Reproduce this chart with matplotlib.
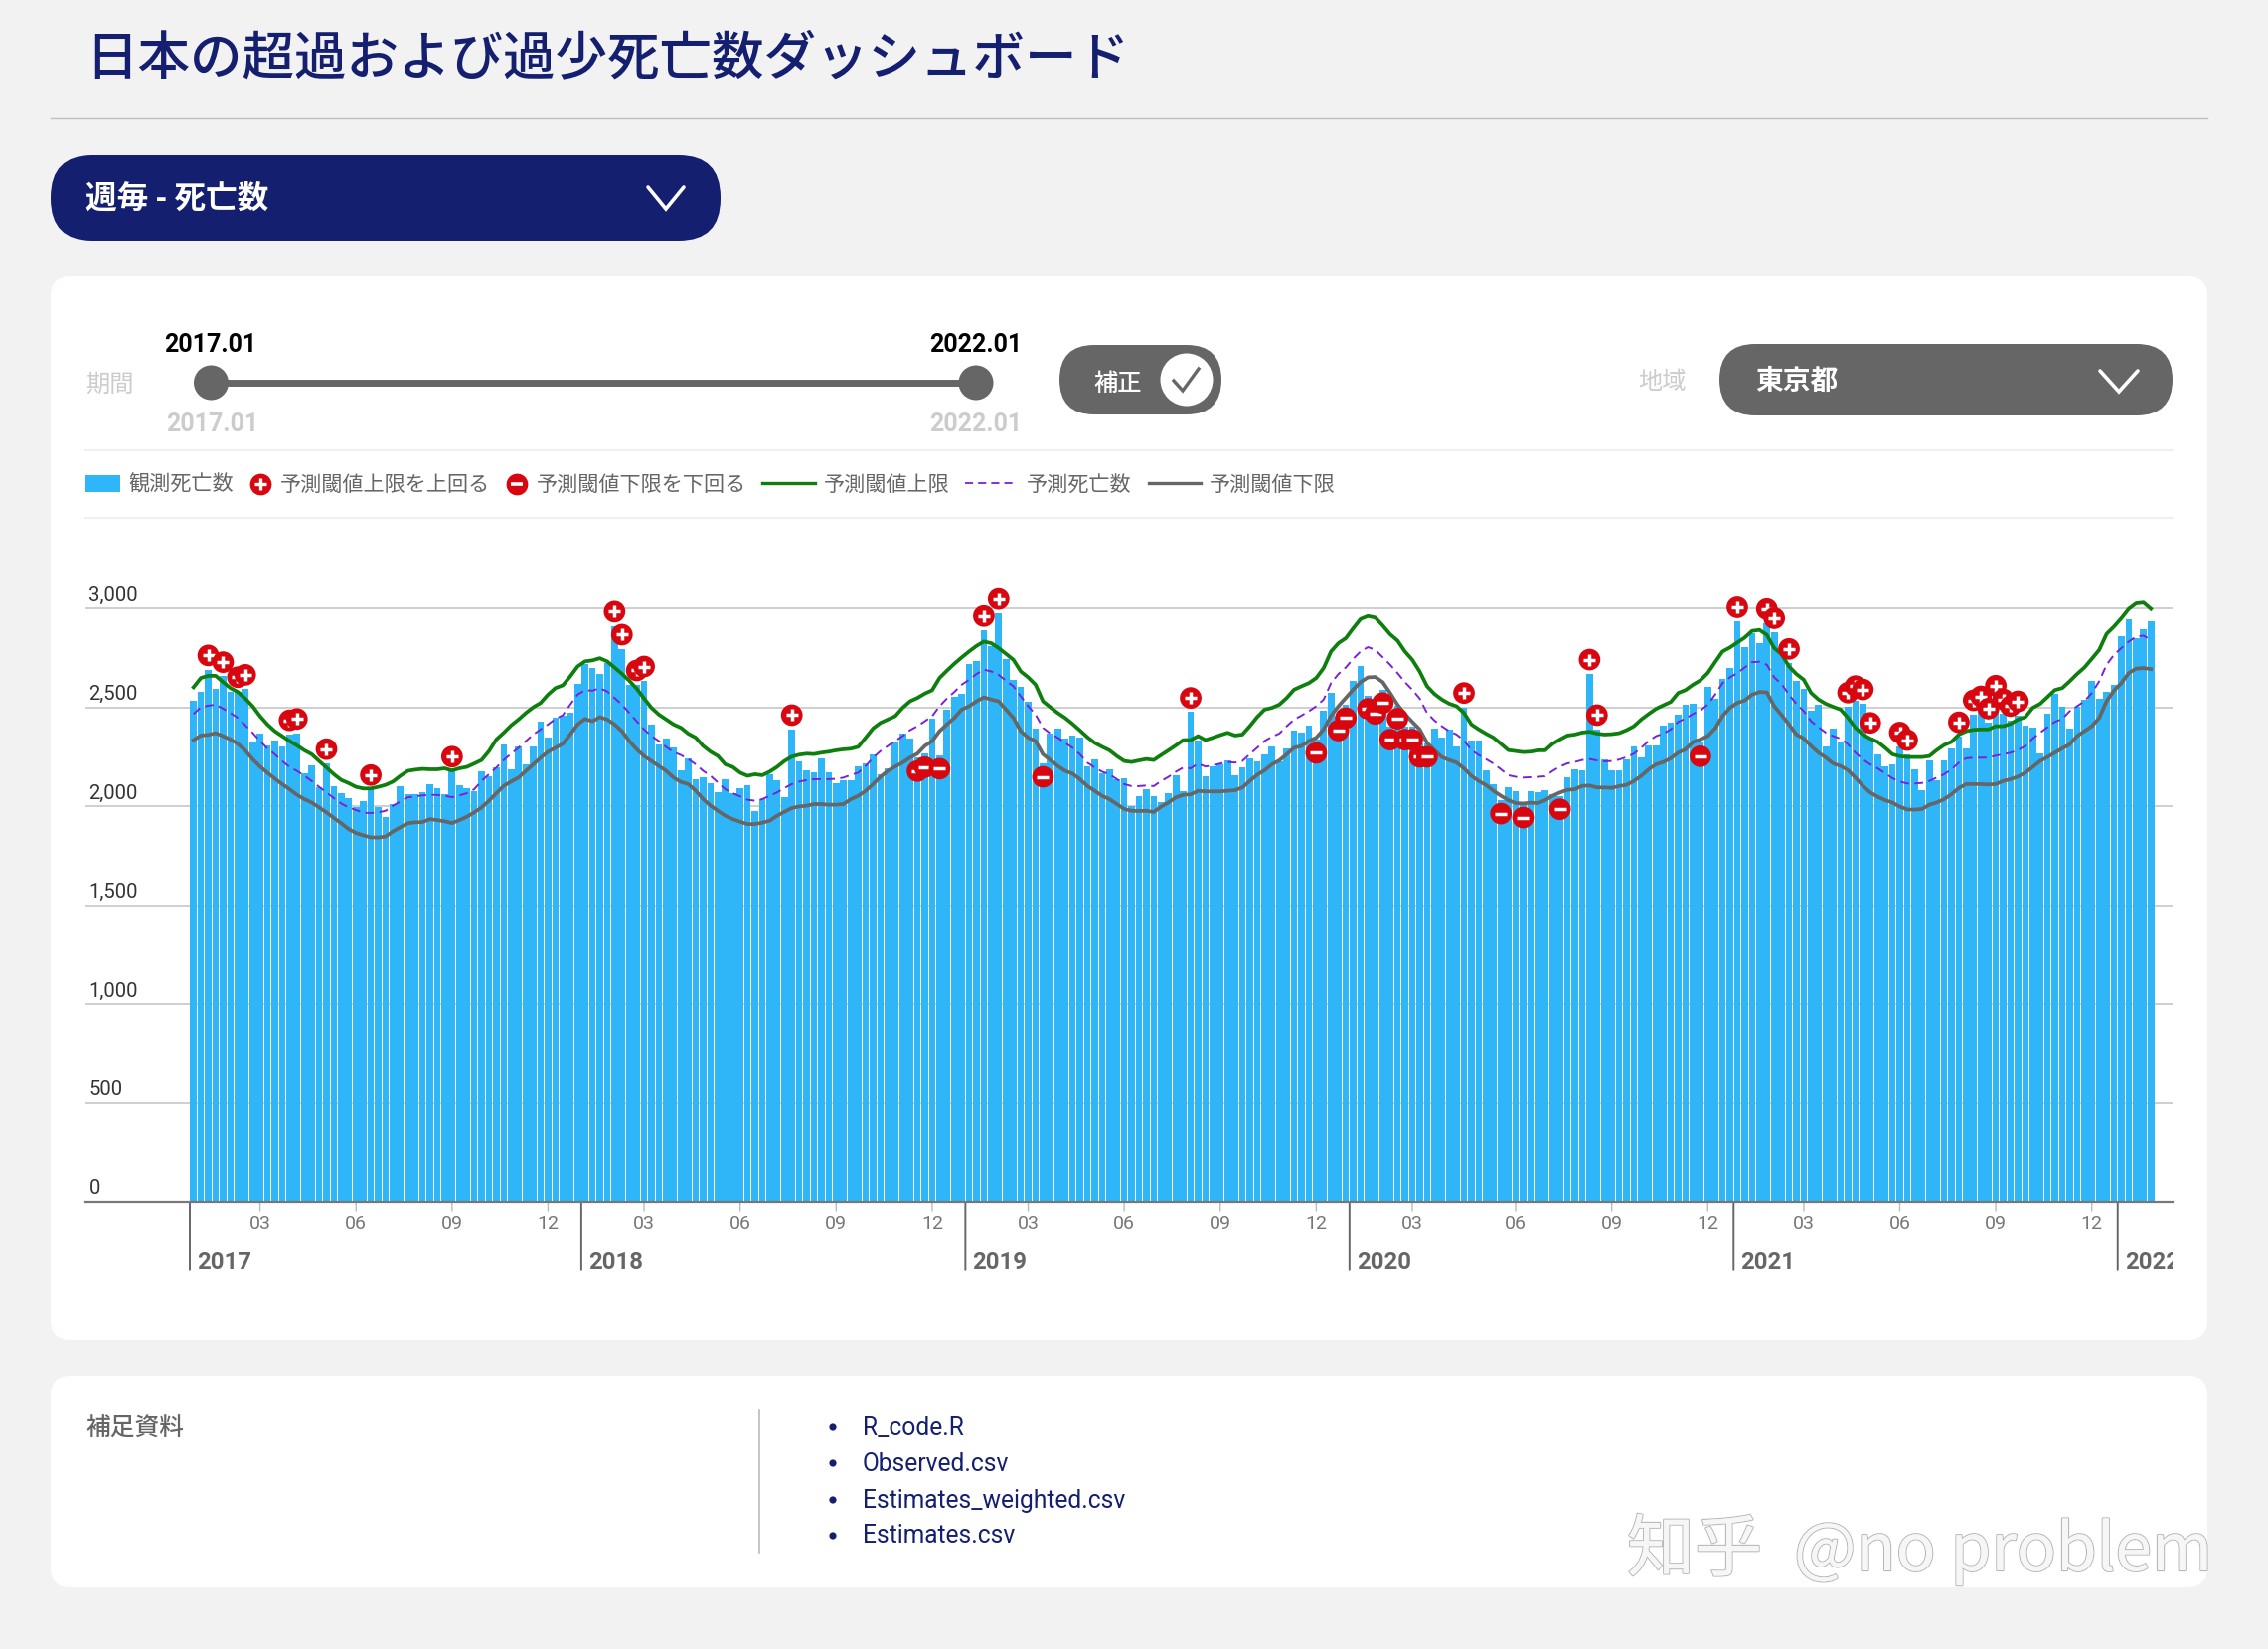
import matplotlib
matplotlib.use("Agg")
import matplotlib.pyplot as plt
from matplotlib.patches import FancyBboxPatch, Rectangle, Circle
from matplotlib.transforms import Bbox
import matplotlib.patheffects as pe

W, H = 2282, 1659

title = "日本の超過および過少死亡数ダッシュボード"
y_ticks = [0, 500, 1000, 1500, 2000, 2500, 3000]
y_tick_labels = ["0", "500", "1,000", "1,500", "2,000", "2,500", "3,000"]
month_pos = [9, 22, 35, 48, 61, 74, 87, 100, 113, 126, 139, 152, 165, 179, 192, 205, 218, 231, 244, 257]
month_labels = ["03", "06", "09", "12"] * 5
year_pos = [0, 53, 105, 157, 209, 261]
year_labels = ["2017", "2018", "2019", "2020", "2021", "2022"]
legend_labels = ["観測死亡数", "予測閾値上限を上回る", "予測閾値下限を下回る", "予測閾値上限", "予測死亡数", "予測閾値下限"]
files = ["R_code.R", "Observed.csv", "Estimates_weighted.csv", "Estimates.csv"]

observed = [
    2534,2580,2690,2594,2656,2577,2580,2592,2327,2369,
    2307,2334,2302,2362,2369,2164,2206,2094,2216,2102,
    2065,2039,1997,2027,2085,1993,1946,2010,2100,2060,
    2060,2069,2111,2089,2060,2178,2107,2089,2077,2176,
    2153,2195,2312,2186,2304,2211,2300,2426,2349,2446,
    2458,2471,2617,2720,2698,2668,2723,2911,2795,2614,
    2614,2634,2413,2312,2342,2295,2183,2242,2136,2148,
    2116,2070,2136,2065,2090,2104,1973,2035,2161,2132,
    2044,2388,2228,2181,2173,2242,2171,2116,2131,2131,
    2201,2216,2262,2159,2191,2324,2367,2342,2245,2265,
    2441,2257,2487,2555,2567,2718,2733,2889,2807,2975,
    2742,2639,2602,2530,2393,2216,2367,2393,2342,2356,
    2349,2201,2236,2164,2186,2136,2141,2002,2049,2085,
    2052,2022,2064,2158,2077,2475,2332,2153,2201,2211,
    2233,2154,2196,2242,2225,2260,2299,2228,2292,2383,
    2372,2408,2337,2483,2575,2450,2513,2631,2710,2560,
    2534,2589,2404,2510,2404,2404,2317,2317,2391,2346,
    2388,2299,2500,2332,2332,2179,2109,2030,2097,2075,
    2010,2077,2069,2080,2060,2052,2146,2184,2181,2669,
    2388,2237,2181,2181,2235,2304,2248,2309,2307,2408,
    2423,2463,2513,2517,2320,2602,2542,2641,2701,2933,
    2804,2874,2824,2924,2878,2768,2723,2633,2594,2480,
    2513,2300,2394,2324,2502,2535,2518,2349,2260,2201,
    2210,2300,2262,2186,2082,2233,2132,2232,2289,2352,
    2290,2463,2483,2421,2537,2468,2434,2458,2409,2396,
    2267,2468,2567,2503,2391,2502,2539,2634,2544,2577,
    2614,2857,2946,2849,2896,2936]

upper = [
    2601,2648,2659,2659,2627,2597,2577,2544,2505,2455,
    2413,2379,2354,2329,2307,2282,2262,2228,2195,2161,
    2132,2116,2097,2089,2089,2097,2107,2124,2153,2178,
    2184,2188,2186,2186,2191,2180,2191,2198,2215,2233,
    2278,2337,2371,2408,2438,2471,2500,2522,2564,2597,
    2611,2656,2706,2732,2737,2748,2732,2701,2669,2634,
    2594,2544,2497,2463,2438,2413,2396,2366,2346,2304,
    2275,2253,2211,2198,2169,2153,2161,2156,2174,2198,
    2228,2250,2260,2265,2263,2270,2275,2282,2287,2290,
    2300,2346,2393,2421,2438,2455,2497,2530,2547,2569,
    2586,2648,2685,2720,2752,2782,2810,2832,2824,2799,
    2770,2740,2681,2651,2614,2530,2500,2471,2446,2416,
    2383,2349,2320,2300,2282,2253,2228,2223,2231,2238,
    2233,2258,2282,2307,2334,2334,2354,2334,2346,2359,
    2371,2357,2362,2404,2450,2488,2497,2513,2547,2589,
    2606,2622,2648,2698,2782,2824,2849,2899,2946,2961,
    2953,2913,2869,2837,2782,2740,2681,2606,2567,2539,
    2518,2505,2471,2413,2388,2366,2346,2315,2283,2278,
    2273,2275,2282,2282,2315,2337,2357,2362,2372,2376,
    2367,2362,2364,2369,2384,2404,2438,2466,2492,2510,
    2527,2572,2587,2614,2636,2673,2728,2782,2802,2827,
    2852,2886,2891,2866,2799,2768,2706,2668,2639,2572,
    2539,2517,2502,2488,2446,2396,2362,2341,2325,2295,
    2262,2252,2248,2248,2248,2253,2283,2309,2325,2362,
    2379,2386,2388,2388,2404,2404,2416,2438,2450,2497,
    2517,2552,2587,2597,2631,2668,2701,2745,2790,2871,
    2908,2950,2997,3025,3029,2997]

predicted = [
    2466,2500,2508,2513,2493,2471,2446,2409,2371,2329,
    2292,2262,2228,2198,2178,2153,2127,2097,2069,2040,
    2013,1993,1980,1966,1965,1968,1976,2002,2023,2044,
    2049,2054,2057,2056,2052,2045,2054,2065,2085,2127,
    2161,2195,2233,2265,2295,2329,2362,2388,2413,2441,
    2460,2513,2564,2586,2584,2596,2580,2547,2513,2471,
    2429,2388,2354,2329,2299,2273,2258,2237,2211,2178,
    2153,2119,2085,2065,2049,2032,2027,2035,2052,2069,
    2091,2111,2124,2131,2136,2136,2136,2138,2144,2158,
    2169,2203,2245,2278,2304,2329,2354,2384,2404,2429,
    2455,2505,2544,2577,2614,2639,2668,2690,2681,2664,
    2634,2606,2555,2505,2463,2396,2367,2346,2320,2295,
    2262,2220,2195,2174,2161,2136,2111,2101,2101,2104,
    2101,2127,2148,2174,2195,2191,2215,2200,2206,2215,
    2223,2220,2228,2262,2295,2329,2351,2367,2404,2438,
    2458,2480,2505,2539,2622,2668,2701,2745,2782,2804,
    2790,2753,2715,2673,2627,2589,2544,2471,2433,2404,
    2379,2362,2332,2283,2258,2237,2215,2186,2156,2148,
    2144,2146,2148,2151,2178,2200,2216,2223,2233,2238,
    2231,2226,2228,2235,2248,2265,2295,2329,2354,2367,
    2388,2426,2443,2466,2483,2513,2564,2622,2651,2673,
    2701,2728,2730,2715,2651,2617,2564,2517,2480,2429,
    2399,2371,2354,2341,2312,2270,2236,2211,2191,2166,
    2141,2124,2114,2114,2117,2127,2144,2161,2186,2220,
    2242,2245,2245,2245,2255,2262,2270,2283,2304,2342,
    2371,2399,2426,2441,2480,2505,2530,2572,2631,2715,
    2765,2799,2832,2857,2862,2841]

lower = [
    2334,2357,2361,2369,2354,2337,2315,2282,2237,2200,
    2169,2139,2111,2085,2057,2035,2018,1993,1968,1940,
    1913,1884,1864,1852,1842,1841,1846,1872,1893,1913,
    1918,1919,1934,1929,1923,1914,1929,1946,1968,1993,
    2027,2065,2102,2124,2144,2178,2211,2245,2275,2295,
    2315,2362,2413,2441,2429,2450,2438,2413,2379,2329,
    2287,2253,2228,2203,2178,2144,2122,2111,2077,2035,
    2002,1976,1951,1934,1921,1909,1909,1916,1926,1951,
    1971,1990,1998,2002,2010,2010,2007,2007,2010,2035,
    2052,2077,2111,2148,2178,2200,2220,2245,2265,2304,
    2329,2379,2413,2446,2488,2505,2530,2550,2539,2530,
    2488,2446,2379,2346,2329,2262,2233,2203,2178,2164,
    2136,2102,2077,2052,2035,2010,1985,1976,1975,1976,
    1970,1997,2018,2044,2057,2059,2077,2074,2074,2074,
    2077,2080,2094,2127,2158,2181,2211,2231,2262,2295,
    2304,2329,2346,2388,2455,2505,2547,2589,2627,2651,
    2653,2627,2572,2513,2466,2426,2388,2320,2282,2248,
    2233,2220,2191,2153,2127,2106,2077,2052,2030,2015,
    2013,2017,2015,2030,2052,2069,2082,2085,2102,2104,
    2094,2094,2092,2101,2107,2127,2153,2186,2211,2223,
    2242,2270,2287,2324,2337,2354,2393,2455,2497,2522,
    2534,2564,2577,2575,2505,2460,2413,2362,2342,2304,
    2270,2245,2215,2203,2181,2144,2102,2069,2047,2030,
    2018,1997,1983,1982,1985,2007,2018,2035,2060,2091,
    2111,2111,2111,2109,2111,2127,2136,2149,2169,2198,
    2228,2248,2270,2292,2312,2354,2379,2404,2446,2530,
    2584,2622,2673,2695,2698,2693]

above_idx = [2,4,6,7,13,14,18,24,35,57,58,60,61,81,107,109,135,172,189,190,
             209,213,214,216,224,225,226,227,231,232,239,241,242,243,244,245,246,247]
below_idx = [98,99,101,115,152,155,156,159,160,161,162,163,164,165,166,167,177,180,185,204]

NAVY = "#141F70"; BLUE = "#2FB6F8"; RED = "#D8060F"; GRAY = "#666666"; PALE = "#CCCCCC"
GREEN = "#0E7F0E"; PURPLE = "#7A22D8"
LAT = ["Roboto", "Noto Sans CJK JP", "DejaVu Sans"]
CJK = ["Noto Sans CJK JP", "Roboto", "DejaVu Sans"]

fig = plt.figure(figsize=(W / 100, H / 100), dpi=100, facecolor="#F2F2F2")

ui = fig.add_axes([0, 0, 1, 1], zorder=0)
ui.set_xlim(0, W); ui.set_ylim(H, 0); ui.axis("off")


def panel(x0, y0, x1, y1, r, color):
    ui.add_patch(FancyBboxPatch((x0, y0), x1 - x0, y1 - y0, boxstyle=f"round,pad=0,rounding_size={r}",
                                fc=color, ec="none", mutation_aspect=1))


def chevron(x0, x1, y0, y1):
    ui.plot([x0, (x0 + x1) / 2, x1], [y0, y1, y0], color="white", lw=2.6, solid_capstyle="round", solid_joinstyle="miter")


ui.text(86, 59, title, family=CJK, fontsize=37.8, color=NAVY, va="center", ha="left", weight="medium")
ui.plot([51, 2221], [118.5, 118.5], color="#BFBFBF", lw=1)

panel(51, 156, 725, 242, 42, NAVY)
ui.text(86, 200, "週毎 - 死亡数", family=CJK, fontsize=22.8, color="white", va="center", weight="bold")
chevron(652, 688, 188, 210)

panel(51, 278, 2221, 1348, 20, "white")
panel(51, 1384, 2221, 1597, 20, "white")

ui.text(86, 387, "期間", family=CJK, fontsize=17.5, color=PALE, va="center")
ui.plot([212, 982], [385, 385], color=GRAY, lw=5, solid_capstyle="butt")
ui.add_patch(Circle((212.5, 385), 17.5, fc=GRAY, ec="none"))
ui.add_patch(Circle((982, 385), 17.5, fc=GRAY, ec="none"))
ui.text(212, 347, "2017.01", family=LAT, fontsize=18, weight="bold", color="black", ha="center", va="center")
ui.text(982, 347, "2022.01", family=LAT, fontsize=18, weight="bold", color="black", ha="center", va="center")
ui.text(214, 427, "2017.01", family=LAT, fontsize=18, weight="bold", color=PALE, ha="center", va="center")
ui.text(982, 427, "2022.01", family=LAT, fontsize=18, weight="bold", color=PALE, ha="center", va="center")

panel(1066, 347, 1229, 417, 35, GRAY)
ui.text(1125, 386, "補正", family=CJK, fontsize=17.5, color="white", ha="center", va="center", weight="medium")
ui.add_patch(Circle((1194, 382), 26.5, fc="white", ec="none"))
ui.plot([1181, 1190, 1206], [383, 393, 371], color=GRAY, lw=2.4, solid_joinstyle="miter")

ui.text(1648, 384, "地域", family=CJK, fontsize=17.5, color=PALE, va="center")
panel(1730, 346, 2186, 418, 36, GRAY)
ui.text(1766, 384, "東京都", family=CJK, fontsize=20, color="white", va="center", weight="bold")
chevron(2113, 2151, 373, 394)

ui.plot([86, 2186], [452.5, 452.5], color="#F0F0F0", lw=1.5)
ui.plot([86, 2186], [520.5, 520.5], color="#F0F0F0", lw=1.5)

LY = 486.5
TY = LY + 1.5
ui.add_patch(Rectangle((86, 478), 35, 17, fc=BLUE, ec="none"))
ui.text(129, TY, legend_labels[0], family=CJK, fontsize=15.2, color=GRAY, va="center")
ui.scatter([262], [LY], s=215, c=RED, zorder=3)
ui.scatter([262], [LY], s=72, marker="+", c="white", linewidths=2.4, zorder=4)
ui.text(282, TY, legend_labels[1], family=CJK, fontsize=15.2, color=GRAY, va="center")
ui.scatter([520], [LY], s=215, c=RED, zorder=3)
ui.scatter([520], [LY], s=72, marker="_", c="white", linewidths=2.6, zorder=4)
ui.text(540, TY, legend_labels[2], family=CJK, fontsize=15.2, color=GRAY, va="center")
ui.plot([767, 820], [LY - 1, LY - 1], color=GREEN, lw=2.4)
ui.text(828.5, TY, legend_labels[3], family=CJK, fontsize=15.2, color=GRAY, va="center")
ui.plot([971, 1023], [LY - 1, LY - 1], color=PURPLE, lw=1.3, dashes=(4.5, 2.8))
ui.text(1033, TY, legend_labels[4], family=CJK, fontsize=15.2, color=GRAY, va="center")
ui.plot([1156, 1208], [LY - 1, LY - 1], color=GRAY, lw=2.4)
ui.text(1217, TY, legend_labels[5], family=CJK, fontsize=15.2, color=GRAY, va="center")

ui.text(86, 1438, "補足資料", family=CJK, fontsize=17.8, color=GRAY, va="center", weight="medium")
ui.plot([764, 764], [1419, 1562], color="#BBBBBB", lw=1.2)
for fy, name in zip([1436.5, 1472.5, 1509.5, 1545.5], files):
    ui.add_patch(Circle((838, fy - 0.5), 3.6, fc=NAVY, ec="none"))
    ui.text(868, fy, name, family=LAT, fontsize=17.7, color=NAVY, va="center")

WMF = ["Noto Sans CJK SC", "DejaVu Sans"]
wm1 = ui.text(1637, 1561, "知乎", family=WMF, fontsize=49, color="#F6F6F6", va="center", zorder=8)
wm2 = ui.text(1805, 1561, "@no problem", family=WMF, fontsize=47.5, color="#F6F6F6", va="center", zorder=8)
for wm in (wm1, wm2):
    wm.set_path_effects([pe.withStroke(linewidth=1.6, foreground="#B8B8B8"), pe.Normal()])

# ---- chart
Y0 = 1209.0; PER = 597.0 / 3000
YMAX = 3100
ax_top = Y0 - YMAX * PER
ax = fig.add_axes([86 / W, 1 - Y0 / H, 2100 / W, (Y0 - ax_top) / H], zorder=1)
ax.patch.set_alpha(0)
P = 7.432
xmin = (86 - 191) / P - 0.5
xmax = (2186 - 191) / P - 0.5
ax.set_xlim(xmin, xmax); ax.set_ylim(0, YMAX)
for s in ax.spines.values():
    s.set_visible(False)
ax.set_xticks([]); ax.set_yticks([])

for v, lab in zip(y_ticks, y_tick_labels):
    if v:
        ax.axhline(v, color="#CFCFCF", lw=1.4, zorder=1)
    ax.annotate(lab, (xmin, v), xytext=(2.5, 9.4), textcoords="offset points", family=LAT, fontsize=14.6,
                color="#333333", ha="left", va="center", annotation_clip=False)

weeks = list(range(len(observed)))
ax.bar(weeks, observed, width=0.9, color=BLUE, zorder=2)
ax.plot(weeks, upper, color=GREEN, lw=2.7, zorder=3)
ax.plot(weeks, predicted, color=PURPLE, lw=1.4, dashes=(4.5, 2.8), zorder=3.1)
ax.plot(weeks, lower, color=GRAY, lw=2.7, zorder=3.2)

all_marks = sorted([(i, 1) for i in above_idx] + [(i, -1) for i in below_idx])
for k, (i, sgn) in enumerate(all_marks):
    yv = observed[i] + (72 if sgn > 0 else -68)
    zo = 5 + k * 0.01
    ax.scatter([i], [yv], s=245, c=RED, edgecolors="none", zorder=zo, clip_on=False)
    ax.scatter([i], [yv], s=80, marker="+" if sgn > 0 else "_", c="white", linewidths=2.5, zorder=zo + 0.005, clip_on=False)

# axis furniture
ax.plot([xmin, xmax], [0, 0], color="#777777", lw=1.6, zorder=6, clip_on=False)
for p, lab in zip(month_pos, month_labels):
    ax.annotate(lab, (p, 0), xytext=(0, -15.5), textcoords="offset points", family=LAT, fontsize=14,
                color="#777777", ha="center", va="center", annotation_clip=False)
    ax.annotate("", xy=(p, 0), xytext=(0, -6.5), textcoords="offset points",
                arrowprops=dict(arrowstyle="-", color="#BBBBBB", lw=1, shrinkA=0, shrinkB=0), annotation_clip=False)

clip = Bbox.from_extents(0, 0, 2186, H)
for p, lab in zip(year_pos, year_labels):
    ax.annotate("", xy=(p - 0.5, 0), xytext=(0, -49.5), textcoords="offset points",
                arrowprops=dict(arrowstyle="-", color=GRAY, lw=1.4, shrinkA=0, shrinkB=0), annotation_clip=False)
    t = ax.annotate(lab, (p - 0.5, 0), xytext=(5, -44), textcoords="offset points", family=LAT, fontsize=17.2,
                    weight="bold", color=GRAY, ha="left", va="center", annotation_clip=False)
    t.set_clip_on(True)
    t.set_clip_box(clip)

fig.savefig("out.png", dpi=100, facecolor=fig.get_facecolor())
